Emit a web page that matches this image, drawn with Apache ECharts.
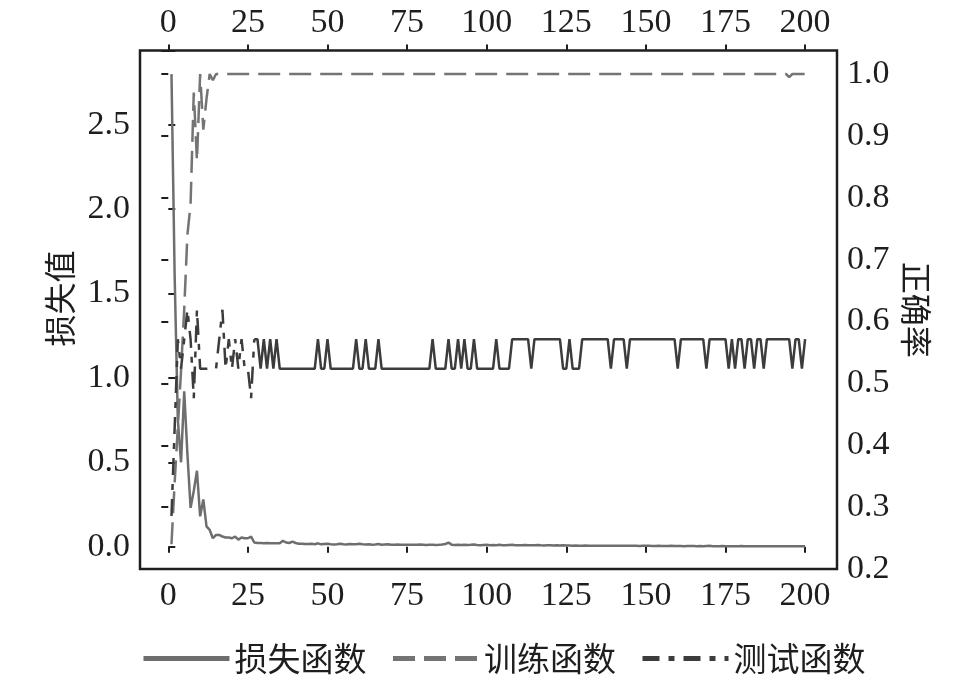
<!DOCTYPE html>
<html><head><meta charset="utf-8">
<script src="https://cdn.jsdelivr.net/npm/echarts@6/dist/echarts.min.js"></script>
<style>html,body{margin:0;padding:0;background:#fff}#c{width:966px;height:687px}</style>
</head><body><div id="c"></div>
<script>
// ---- tick labels ----
const xTickLabels = [0, 25, 50, 75, 100, 125, 150, 175, 200];
const lossTickLabels = [0.0, 0.5, 1.0, 1.5, 2.0, 2.5];
const accTickLabels = [0.2, 0.3, 0.4, 0.5, 0.6, 0.7, 0.8, 0.9, 1.0];
const legendNames = ['损失函数', '训练函数', '测试函数'];

// ---- series values (epoch = index + 1) ----
const lossValues = [
  2.80,1.60,0.75,0.50,0.92,0.55,0.23,0.33,0.45,0.18,
  0.28,0.12,0.10,0.05,0.07,0.07,0.06,0.055,0.055,0.05,
  0.06,0.042,0.055,0.05,0.05,0.06,0.025,0.022,0.022,0.02,
  0.022,0.02,0.02,0.02,0.02,0.035,0.025,0.022,0.03,0.022,
  0.018,0.018,0.016,0.016,0.017,0.015,0.02,0.014,0.016,0.018,
  0.015,0.013,0.014,0.018,0.014,0.013,0.016,0.014,0.015,0.018,
  0.014,0.013,0.015,0.012,0.013,0.016,0.012,0.013,0.014,0.012,
  0.012,0.013,0.011,0.012,0.012,0.011,0.012,0.011,0.013,0.012,
  0.010,0.011,0.012,0.010,0.011,0.013,0.016,0.024,0.012,0.010,
  0.011,0.010,0.012,0.010,0.011,0.013,0.010,0.009,0.010,0.011,
  0.009,0.010,0.009,0.011,0.009,0.008,0.010,0.012,0.009,0.008,
  0.009,0.010,0.008,0.009,0.008,0.010,0.008,0.007,0.008,0.009,
  0.007,0.008,0.007,0.009,0.007,0.007,0.006,0.007,0.006,0.006,
  0.007,0.006,0.006,0.005,0.006,0.006,0.005,0.006,0.005,0.005,
  0.006,0.005,0.005,0.005,0.006,0.005,0.005,0.004,0.005,0.005,
  0.005,0.004,0.004,0.005,0.004,0.004,0.004,0.005,0.004,0.004,
  0.004,0.003,0.004,0.004,0.004,0.003,0.004,0.003,0.004,0.005,
  0.003,0.003,0.003,0.004,0.003,0.003,0.003,0.003,0.003,0.004,
  0.003,0.003,0.002,0.003,0.003,0.003,0.002,0.003,0.003,0.002,
  0.002,0.003,0.002,0.002,0.002,0.003,0.002,0.002,0.002,0.002
];

const trainValues = [
  0.24,0.34,0.43,0.52,0.62,0.74,0.79,0.97,0.86,1.0,0.91,0.96,1.0,0.99,1.0,
  1,1,1,1,1,
  1,1,1,1,1,1,1,1,1,1,1,1,1,1,1,1,1,1,1,1,
  1,1,1,1,1,1,1,1,1,1,1,1,1,1,1,1,1,1,1,1,
  1,1,1,1,1,1,1,1,1,1,1,1,1,1,1,1,1,1,1,1,
  1,1,1,1,1,1,1,1,1,1,1,1,1,1,1,1,1,1,1,1,
  1,1,1,1,1,1,1,1,1,1,1,1,1,1,1,1,1,1,1,1,
  1,1,1,1,1,1,1,1,1,1,1,1,1,1,1,1,1,1,1,1,
  1,1,1,1,1,1,1,1,1,1,1,1,1,1,1,1,1,1,1,1,
  1,1,1,1,1,1,1,1,1,1,1,1,1,1,1,1,1,1,1,1,
  1,1,1,1,1,1,1,1,1,1,1,1,1,1,
  0.995,1,1,1,1,1,1,0.99,1
];

const testValues = [
  0.2857,0.4286,0.5714,0.5238,0.5714,0.6190,0.5714,0.4762,0.6190,0.5238,
  0.5238,0.5238,0.5238,0.5238,0.5238,0.5714,0.6190,0.5238,0.5714,0.5238,
  0.5714,0.5238,0.5714,0.5238,0.5238,0.4762,0.5714,0.5714,0.5238,0.5714,
  0.5238,0.5714,0.5238,0.5714,0.5238,0.5238,0.5238,0.5238,0.5238,0.5238,
  0.5238,0.5238,0.5238,0.5238,0.5238,0.5238,0.5714,0.5238,0.5238,0.5714,
  0.5238,0.5238,0.5238,0.5238,0.5238,0.5238,0.5238,0.5238,0.5714,0.5238,
  0.5238,0.5714,0.5238,0.5238,0.5238,0.5714,0.5238,0.5238,0.5238,0.5238,
  0.5238,0.5238,0.5238,0.5238,0.5238,0.5238,0.5238,0.5238,0.5238,0.5238,
  0.5238,0.5238,0.5714,0.5238,0.5238,0.5238,0.5238,0.5714,0.5238,0.5238,
  0.5714,0.5238,0.5714,0.5238,0.5238,0.5714,0.5238,0.5238,0.5238,0.5238,
  0.5238,0.5238,0.5714,0.5238,0.5238,0.5238,0.5238,0.5714,0.5714,0.5714,
  0.5714,0.5714,0.5714,0.5238,0.5714,0.5714,0.5714,0.5714,0.5714,0.5714,
  0.5714,0.5714,0.5714,0.5238,0.5238,0.5714,0.5238,0.5238,0.5238,0.5714,
  0.5714,0.5714,0.5714,0.5714,0.5714,0.5714,0.5714,0.5714,0.5238,0.5714,
  0.5714,0.5714,0.5714,0.5238,0.5714,0.5714,0.5714,0.5714,0.5714,0.5714,
  0.5714,0.5714,0.5714,0.5714,0.5714,0.5714,0.5714,0.5714,0.5714,0.5238,
  0.5714,0.5714,0.5714,0.5714,0.5714,0.5714,0.5714,0.5714,0.5238,0.5714,
  0.5714,0.5714,0.5714,0.5714,0.5714,0.5238,0.5714,0.5238,0.5714,0.5714,
  0.5238,0.5714,0.5714,0.5238,0.5714,0.5714,0.5238,0.5714,0.5714,0.5714,
  0.5714,0.5714,0.5714,0.5714,0.5714,0.5238,0.5714,0.5714,0.5238,0.5714
];
const testSplit = 27; // first epochs drawn dash-dot

// ---- build ----
const toPairs = (arr, start) => arr.map((v, i) => [i + 1 + start, v]);
const inList = (list, v) => list.some(t => Math.abs(t - v) < 1e-6);

const numFont = 'Liberation Serif';
const cjkFont = 'Noto Sans CJK SC';
const axisColor = '#1e1e1e';

const xAxisCommon = {
  type: 'value', min: 0, max: 200, interval: 25,
  axisLine: {show: false}, splitLine: {show: false},
  axisTick: {show: true, inside: false, length: 6, lineStyle: {color: axisColor, width: 2}},
  axisLabel: {fontFamily: numFont, fontSize: 34, color: axisColor, margin: 10,
    formatter: v => inList(xTickLabels, v) ? String(Math.round(v)) : ''}
};

const chart = echarts.init(document.getElementById('c'), null, {renderer: 'canvas'});
chart.setOption({
  animation: false,
  backgroundColor: '#fff',
  grid: [
    {left: 168.3, right: 160.9, top: 50.5, bottom: 140.3},
    {left: 168.3, right: 160.9, top: 50.5, bottom: 118},
    {left: 140, right: 129, top: 50.5, bottom: 118, show: true, borderColor: axisColor, borderWidth: 2.5, backgroundColor: 'transparent'}
  ],
  xAxis: [
    Object.assign({}, xAxisCommon, {gridIndex: 0, position: 'bottom', offset: 22.3}),
    Object.assign({}, xAxisCommon, {gridIndex: 1, position: 'top', offset: 0}),
    {gridIndex: 2, type: 'value', show: false, min: 0, max: 1}
  ],
  yAxis: [
    {gridIndex: 0, type: 'value', position: 'left', offset: 28.3, min: 0, max: 2.94, interval: 0.5,
     axisLine: {show: false}, splitLine: {show: false},
     axisTick: {show: true, inside: true, length: 7, lineStyle: {color: axisColor, width: 2}},
     axisLabel: {fontFamily: numFont, fontSize: 34, color: axisColor, margin: 10,
       formatter: v => inList(lossTickLabels, v) ? v.toFixed(1) : ''},
     name: '损失值', nameLocation: 'middle', nameRotate: 90, nameGap: 64,
     nameTextStyle: {fontFamily: cjkFont, fontSize: 32, color: axisColor}},
    {gridIndex: 1, type: 'value', position: 'right', offset: 31.9, min: 0.2, max: 1.038, interval: 0.1,
     axisLine: {show: false}, splitLine: {show: false},
     axisTick: {show: true, inside: true, length: 7, lineStyle: {color: axisColor, width: 2}},
     axisLabel: {fontFamily: numFont, fontSize: 34, color: axisColor, margin: 10,
       formatter: v => inList(accTickLabels, v) ? v.toFixed(1) : ''},
     name: '正确率', nameLocation: 'middle', nameRotate: -90, nameGap: 62,
     nameTextStyle: {fontFamily: cjkFont, fontSize: 32, color: axisColor}},
    {gridIndex: 2, type: 'value', show: false, min: 0, max: 1}
  ],
  legend: {
    data: legendNames.map(n => ({name: n, lineStyle: {width: 5}})),
    left: 136, top: 637, itemWidth: 86, itemHeight: 14, itemGap: 24,
    textStyle: {fontFamily: cjkFont, fontSize: 33, color: axisColor},
    lineStyle: {width: 5},
    itemStyle: {opacity: 0, borderWidth: 0}
  },
  series: [
    {name: legendNames[0], type: 'line', xAxisIndex: 0, yAxisIndex: 0, symbol: 'none',
     data: toPairs(lossValues, 0), lineStyle: {color: '#6e6e6e', width: 2.5}, itemStyle: {color: '#6e6e6e'}},
    {name: legendNames[1], type: 'line', xAxisIndex: 1, yAxisIndex: 1, symbol: 'none', clip: false,
     data: toPairs(trainValues, 0), lineStyle: {color: '#747474', width: 2.5, type: [22, 9]}, itemStyle: {color: '#747474'}},
    {name: legendNames[2], type: 'line', xAxisIndex: 1, yAxisIndex: 1, symbol: 'none',
     data: toPairs(testValues.slice(0, testSplit), 0), lineStyle: {color: '#3c3c3c', width: 2.5, type: [17, 9, 6, 9]}, itemStyle: {color: '#3c3c3c'}},
    {name: legendNames[2], type: 'line', xAxisIndex: 1, yAxisIndex: 1, symbol: 'none',
     data: toPairs(testValues.slice(testSplit - 1), testSplit - 1), lineStyle: {color: '#3c3c3c', width: 2.5}, itemStyle: {color: '#3c3c3c'}}
  ]
});
</script></body></html>
